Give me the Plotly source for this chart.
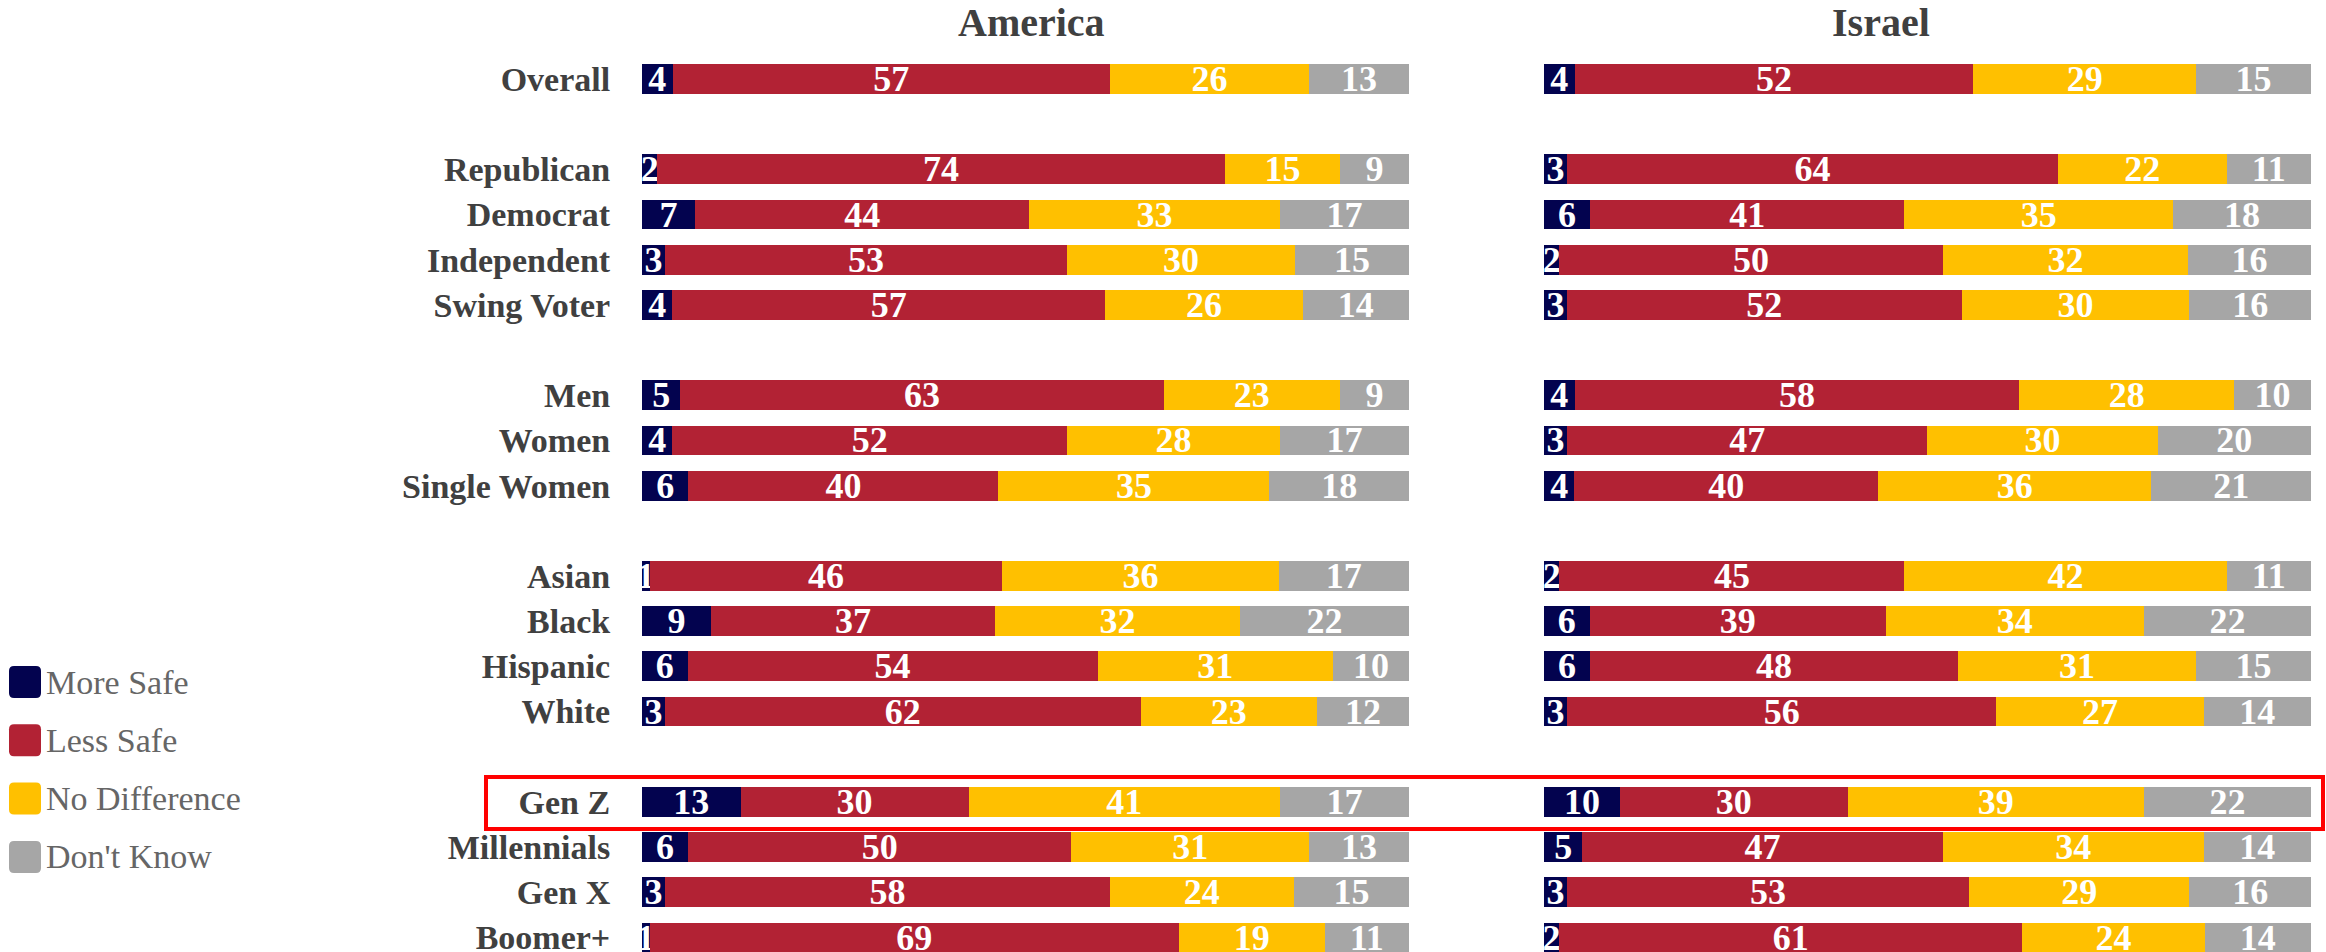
import plotly.graph_objects as go

# ---------------- data ----------------
categories = ["Overall", "Republican", "Democrat", "Independent", "Swing Voter",
              "Men", "Women", "Single Women", "Asian", "Black", "Hispanic", "White",
              "Gen Z", "Millennials", "Gen X", "Boomer+"]
# blank spacer rows follow these categories
spacer_after = ["Overall", "Swing Voter", "Single Women", "White"]

series_names = ["More Safe", "Less Safe", "No Difference", "Don't Know"]
series_colors = ["#03034f", "#b22234", "#ffc000", "#a6a6a6"]

america_more_safe = [4, 2, 7, 3, 4, 5, 4, 6, 1, 9, 6, 3, 13, 6, 3, 1]
america_less_safe = [57, 74, 44, 53, 57, 63, 52, 40, 46, 37, 54, 62, 30, 50, 58, 69]
america_no_diff = [26, 15, 33, 30, 26, 23, 28, 35, 36, 32, 31, 23, 41, 31, 24, 19]
america_dont_know = [13, 9, 17, 15, 14, 9, 17, 18, 17, 22, 10, 12, 17, 13, 15, 11]

israel_more_safe = [4, 3, 6, 2, 3, 4, 3, 4, 2, 6, 6, 3, 10, 5, 3, 2]
israel_less_safe = [52, 64, 41, 50, 52, 58, 47, 40, 45, 39, 48, 56, 30, 47, 53, 61]
israel_no_diff = [29, 22, 35, 32, 30, 28, 30, 36, 42, 34, 31, 27, 39, 34, 29, 24]
israel_dont_know = [15, 11, 18, 16, 16, 10, 20, 21, 11, 22, 15, 14, 22, 14, 16, 14]

panel_titles = ["America", "Israel"]
highlight_category = "Gen Z"

# ---------------- layout constants ----------------
W, H = 2326, 952
M_TOP, M_BOT = 40, 0
PLOT_H = H - M_TOP - M_BOT
LABEL_FONT = "Liberation Serif"

# y category order with spacer rows
cat_order = []
n_sp = 0
for c in categories:
    cat_order.append(c)
    if c in spacer_after:
        n_sp += 1
        cat_order.append(" " * n_sp)

fig = go.Figure()

panels = [
    ("x", [america_more_safe, america_less_safe, america_no_diff, america_dont_know]),
    ("x2", [israel_more_safe, israel_less_safe, israel_no_diff, israel_dont_know]),
]

for xa, data in panels:
    totals = [sum(v) for v in zip(*data)]
    for name, color, vals in zip(series_names, series_colors, data):
        fig.add_trace(go.Bar(
            y=categories,
            x=[round(v / t * 100, 4) for v, t in zip(vals, totals)],
            orientation="h",
            name=name,
            marker=dict(color=color, line=dict(width=0)),
            text=[str(v) for v in vals],
            textposition="inside",
            insidetextanchor="middle",
            constraintext="none",
            textangle=0,
            textfont=dict(family=LABEL_FONT, size=36, color="white", weight="bold"),
            cliponaxis=False,
            showlegend=False,
            hoverinfo="skip",
            xaxis=xa, yaxis="y",
        ))

dom1 = [642 / W, 1409 / W]
dom2 = [1544 / W, 2311 / W]

# y range so that row centres land where the reference has them
ROW = 45.18
top_val = -(79 - M_TOP) / ROW
bot_val = (len(cat_order) - 1) + (H - M_BOT - 937.5) / ROW

fig.update_layout(
    width=W, height=H,
    margin=dict(l=0, r=0, t=M_TOP, b=M_BOT),
    paper_bgcolor="white", plot_bgcolor="white",
    barmode="stack", bargap=0.34,
    showlegend=False,
    xaxis=dict(domain=dom1, range=[0, 100.01], visible=False, fixedrange=True),
    xaxis2=dict(domain=dom2, range=[0, 100.01], visible=False, anchor="y", fixedrange=True),
    yaxis=dict(
        type="category", categoryorder="array", categoryarray=cat_order,
        range=[bot_val, top_val], anchor="x", automargin=False,
        showgrid=False, zeroline=False, showline=False,
        ticks="outside", ticklen=24, tickcolor="rgba(0,0,0,0)",
        tickfont=dict(family=LABEL_FONT, size=34, color="#404040", weight="bold"),
    ),
)

def py_to_paper(py):
    return (H - M_BOT - py) / PLOT_H

# panel titles (centres)
title_centres_px = [1031, 1881]
for title, cx in zip(panel_titles, title_centres_px):
    fig.add_annotation(
        text=title, x=cx / W, y=py_to_paper(23),
        xref="paper", yref="paper", xanchor="center", yanchor="middle",
        showarrow=False,
        font=dict(family=LABEL_FONT, size=40, color="#404040", weight="bold"),
    )

# highlight box around the Gen Z row
gi = cat_order.index(highlight_category)
fig.add_shape(
    type="rect", xref="paper", yref="y",
    x0=486 / W, x1=2323 / W, y0=gi - 0.55, y1=gi + 0.6,
    line=dict(color="#ff0000", width=4), fillcolor="rgba(0,0,0,0)", layer="above",
)

# manual legend with large rounded swatches
sw = 32
r = 5
for i, (name, color) in enumerate(zip(series_names, series_colors)):
    cy = 682 + i * 58.3
    x0, x1 = 9, 9 + sw
    y0, y1 = cy - sw / 2, cy + sw / 2
    X0, X1 = x0 / W, x1 / W
    rx = r / W
    Y0, Y1 = py_to_paper(y1), py_to_paper(y0)
    ry = r / PLOT_H
    path = (f"M{X0+rx},{Y0} L{X1-rx},{Y0} Q{X1},{Y0} {X1},{Y0+ry} "
            f"L{X1},{Y1-ry} Q{X1},{Y1} {X1-rx},{Y1} L{X0+rx},{Y1} "
            f"Q{X0},{Y1} {X0},{Y1-ry} L{X0},{Y0+ry} Q{X0},{Y0} {X0+rx},{Y0} Z")
    fig.add_shape(type="path", path=path, xref="paper", yref="paper",
                  fillcolor=color, line=dict(width=0))
    fig.add_annotation(
        text=name, x=44 / W, y=py_to_paper(cy), xref="paper", yref="paper",
        xanchor="left", yanchor="middle", showarrow=False,
        font=dict(family=LABEL_FONT, size=34, color="#666666"),
    )

fig.write_html(
    "out.html",
    config={"displayModeBar": False},
    post_script="document.body.style.margin='0';document.body.style.padding='0';"
                "document.body.style.overflow='hidden';",
)
